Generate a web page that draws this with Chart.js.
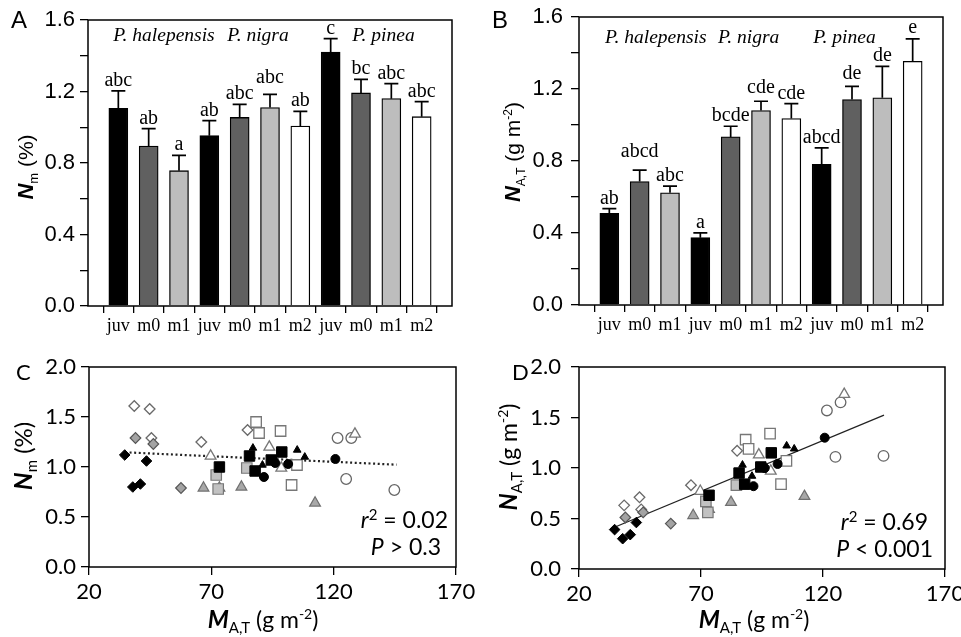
<!DOCTYPE html>
<html>
<head>
<meta charset="utf-8">
<script src="https://cdn.jsdelivr.net/npm/chart.js@4.4.1/dist/chart.umd.min.js"></script>
<style>
  body { margin: 0; background: #fff; width: 961px; height: 637px; position: relative; overflow: hidden; }
  canvas { position: absolute; }
</style>
</head>
<body>
<canvas id="panelA" width="480" height="345" style="left:0;top:0"></canvas>
<canvas id="panelB" width="481" height="345" style="left:480px;top:0"></canvas>
<canvas id="panelC" width="480" height="292" style="left:0;top:345px"></canvas>
<canvas id="panelD" width="481" height="292" style="left:480px;top:345px"></canvas>
<script>
// bar categories (3 species x leaf age classes)
const cats = ['juv', 'm0', 'm1', 'juv', 'm0', 'm1', 'm2', 'juv', 'm0', 'm1', 'm2'];
const species = ['P. halepensis', 'P. nigra', 'P. pinea'];

// A: leaf N per mass (%)
const nmMean = [1.106, 0.895, 0.757, 0.953, 1.055, 1.110, 1.007, 1.421, 1.192, 1.160, 1.059];
const nmErr = [0.097, 0.097, 0.086, 0.084, 0.073, 0.074, 0.082, 0.075, 0.076, 0.084, 0.084];
const nmLetters = ['abc', 'ab', 'a', 'ab', 'abc', 'abc', 'ab', 'c', 'bc', 'abc', 'abc'];

// B: leaf N per area (g m-2)
const naMean = [0.509, 0.686, 0.623, 0.374, 0.934, 1.080, 1.036, 0.781, 1.141, 1.151, 1.354];
const naErr = [0.026, 0.063, 0.037, 0.027, 0.059, 0.052, 0.083, 0.092, 0.074, 0.175, 0.124];
const naLetters = ['ab', 'abcd', 'abc', 'a', 'bcde', 'cde', 'cde', 'abcd', 'de', 'de', 'e'];

// C/D scatter: M_A,T (x), N_m (C) and N_A,T (D), by marker group
const diaBlkX = [34.6, 43.5, 37.9, 41.0];
const diaBlkNm = [1.12, 1.06, 0.80, 0.83];
const diaBlkNa = [0.39, 0.46, 0.30, 0.34];
const diaGryX = [39.0, 46.3, 57.6];
const diaGryNm = [1.29, 1.23, 0.79];
const diaGryNa = [0.51, 0.56, 0.45];
const diaOpnX = [38.5, 44.8, 45.5, 65.9, 84.8];
const diaOpnNm = [1.61, 1.58, 1.29, 1.25, 1.37];
const diaOpnNa = [0.63, 0.71, 0.59, 0.83, 1.17];
const sqBlkX = [73.3, 85.6, 87.9, 94.5, 98.8];
const sqBlkNm = [1.00, 1.11, 0.96, 1.07, 1.15];
const sqBlkNa = [0.73, 0.95, 0.84, 1.01, 1.15];
const sqGryX = [72.0, 72.8, 84.5];
const sqGryNm = [0.92, 0.78, 0.99];
const sqGryNa = [0.67, 0.56, 0.83];
const sqOpnX = [88.3, 89.5, 98.3, 105.0, 102.8];
const sqOpnNm = [1.45, 1.34, 1.36, 1.02, 0.82];
const sqOpnNa = [1.28, 1.19, 1.34, 1.07, 0.84];
const triBlkX = [87.0, 90.9, 105.1, 108.2];
const triBlkNm = [1.19, 1.02, 1.17, 1.10];
const triBlkNa = [1.03, 0.92, 1.22, 1.19];
const triGryX = [66.8, 73.3, 82.3, 112.4];
const triGryNm = [0.79, 0.79, 0.80, 0.64];
const triGryNa = [0.53, 0.59, 0.66, 0.72];
const triOpnX = [69.7, 93.7, 98.6, 128.7];
const triOpnNm = [1.11, 1.20, 0.99, 1.33];
const triOpnNa = [0.77, 1.13, 0.97, 1.73];
const cirBlkX = [91.5, 96.1, 101.4, 120.7];
const cirBlkNm = [0.90, 1.04, 1.03, 1.08];
const cirBlkNa = [0.82, 1.00, 1.04, 1.30];
const cirOpnX = [121.6, 127.2, 125.1, 144.8];
const cirOpnNm = [1.29, 1.29, 0.88, 0.77];
const cirOpnNa = [1.57, 1.65, 1.11, 1.12];

// fitted lines (end points)
const fitNm = [[34.7, 1.147], [145.7, 1.023]];
const fitNa = [[35.3, 0.421], [145.0, 1.523]];

const stageFill = { juv: '#000000', m0: '#606060', m1: '#bdbdbd', m2: '#ffffff' };
const SANS = 'Liberation Sans';
const SERIF = 'Liberation Serif';
const CAL = 'Lato';

// draw a run of text pieces (sub/superscripts), optionally rotated
function rich(ctx, x, y, segs, align, rot) {
  ctx.save();
  ctx.translate(x, y);
  if (rot) ctx.rotate(rot);
  let w = 0;
  segs.forEach(s => { ctx.font = s.f; s.w = ctx.measureText(s.t).width; w += s.w; });
  let cx = align === 'center' ? -w / 2 : align === 'right' ? -w : 0;
  ctx.textAlign = 'left';
  ctx.textBaseline = 'alphabetic';
  ctx.fillStyle = '#000';
  segs.forEach(s => { ctx.font = s.f; ctx.fillText(s.t, cx, s.dy || 0); cx += s.w; });
  ctx.restore();
}

function frame(chart) {
  const a = chart.chartArea, ctx = chart.ctx;
  ctx.save();
  ctx.strokeStyle = '#000';
  ctx.lineWidth = 1.5;
  ctx.strokeRect(a.left, a.top, a.right - a.left, a.bottom - a.top);
  ctx.restore();
}

function fixedAxes(box, area) {
  return {
    y: s => { s.width = area.l; s.paddingTop = 0; s.paddingBottom = 0; },
    x: s => { s.height = box.h - area.b; s.paddingLeft = 0; s.paddingRight = 0; }
  };
}

function barPanel(id, box, area, mean, err, letters, lift, cfg) {
  const fit = fixedAxes(box, area);
  const tickGrid = { display: true, drawOnChartArea: false, drawTicks: true, tickLength: 8, color: '#000', lineWidth: 1.3 };
  new Chart(document.getElementById(id), {
    type: 'bar',
    data: {
      datasets: [{
        data: mean.map((v, i) => ({ x: i, y: v })),
        backgroundColor: cats.map(c => stageFill[c]),
        borderColor: '#000',
        borderWidth: 1.3,
        barThickness: 19
      }]
    },
    options: {
      responsive: false,
      animation: false,
      layout: { padding: { left: 0, top: area.t, right: box.w - area.r, bottom: 0 } },
      plugins: { legend: { display: false }, tooltip: { enabled: false } },
      scales: {
        x: {
          type: 'linear', min: -1, max: 11, offset: false,
          afterBuildTicks: s => { s.ticks = cats.map((c, i) => ({ value: i })); },
          afterFit: fit.x,
          ticks: { autoSkip: false, maxRotation: 0, padding: 2, color: '#000',
                   font: { family: SERIF, size: 18 }, callback: v => cats[v] },
          grid: Object.assign({}, tickGrid, { tickLength: 7 }),
          border: { display: false }
        },
        y: {
          min: 0, max: 1.6,
          afterFit: fit.y,
          ticks: { stepSize: 0.2, padding: cfg.yPad, color: '#000', font: { family: SANS, size: 22 },
                   callback: v => Math.abs(v / 0.4 - Math.round(v / 0.4)) < 1e-6 ? v.toFixed(1) : '' },
          grid: tickGrid,
          border: { display: false }
        }
      }
    },
    plugins: [{
      id: 'errs',
      afterDatasetsDraw(chart) {
        const ctx = chart.ctx, ys = chart.scales.y;
        const bars = chart.getDatasetMeta(0).data;
        ctx.save();
        ctx.strokeStyle = '#000';
        ctx.lineWidth = 1.7;
        bars.forEach((b, i) => {
          const top = ys.getPixelForValue(mean[i] + err[i]);
          ctx.beginPath();
          ctx.moveTo(b.x, b.y);
          ctx.lineTo(b.x, top);
          ctx.moveTo(b.x - 7, top);
          ctx.lineTo(b.x + 7, top);
          ctx.stroke();
          ctx.font = '20px ' + SERIF;
          ctx.fillStyle = '#000';
          ctx.textAlign = 'center';
          ctx.textBaseline = 'alphabetic';
          ctx.fillText(letters[i], b.x, top - 5 - (lift[i] || 0));
        });
        ctx.restore();
      },
      afterDraw(chart) {
        frame(chart);
        const ctx = chart.ctx, xs = chart.scales.x, ys = chart.scales.y;
        species.forEach((sp, k) => {
          rich(ctx, xs.getPixelForValue(cfg.spX[k]), ys.getPixelForValue(cfg.spY),
               [{ t: sp, f: 'italic 19.5px ' + SERIF }], 'left');
        });
        rich(ctx, cfg.letter[1], cfg.letter[2], [{ t: cfg.letter[0], f: '24px ' + SANS }], 'left');
        rich(ctx, cfg.ytitle[0], cfg.ytitle[1], cfg.ytitle[2], 'center', -Math.PI / 2);
      }
    }]
  });
}

function scatterSet(x, y, shape, r, fill, line, bw) {
  return { data: x.map((v, i) => ({ x: v, y: y[i] })), pointStyle: shape, pointRadius: r,
           backgroundColor: fill, borderColor: line, borderWidth: bw, order: 1 };
}

function scatterPanel(id, box, area, ys, fitLine, dash, cfg) {
  const fit = fixedAxes(box, area);
  const tickGrid = { display: true, drawOnChartArea: false, drawTicks: true, tickLength: 8, color: '#000', lineWidth: 1.3 };
  const sets = [
    scatterSet(diaBlkX, ys.diaBlk, 'rectRot', 5.3, '#000', '#000', 1),
    scatterSet(sqBlkX, ys.sqBlk, 'rect', 7.4, '#000', '#000', 1),
    scatterSet(triBlkX, ys.triBlk, 'triangle', 4.4, '#000', '#000', 1),
    scatterSet(cirBlkX, ys.cirBlk, 'circle', 4.5, '#000', '#000', 1),
    scatterSet(diaGryX, ys.diaGry, 'rectRot', 5.3, '#a3a3a3', '#555', 1.2),
    scatterSet(sqGryX, ys.sqGry, 'rect', 7.4, '#c2c2c2', '#777', 1.2),
    scatterSet(triGryX, ys.triGry, 'triangle', 6.2, '#a8a8a8', '#707070', 1.2),
    scatterSet(diaOpnX, ys.diaOpn, 'rectRot', 5.3, '#fff', '#6a6a6a', 1.3),
    scatterSet(sqOpnX, ys.sqOpn, 'rect', 7.4, '#fff', '#777', 1.3),
    scatterSet(triOpnX, ys.triOpn, 'triangle', 6.2, '#fff', '#777', 1.3),
    scatterSet(cirOpnX, ys.cirOpn, 'circle', 5.3, '#fff', '#666', 1.3),
    { data: fitLine.map(p => ({ x: p[0], y: p[1] })), showLine: true, pointRadius: 0,
      borderColor: '#222', borderWidth: dash ? 2.2 : 1.3, borderDash: dash || [], order: 2 }
  ];
  new Chart(document.getElementById(id), {
    type: 'scatter',
    data: { datasets: sets },
    options: {
      responsive: false,
      animation: false,
      layout: { padding: { left: 0, top: area.t, right: box.w - area.r, bottom: 0 } },
      plugins: { legend: { display: false }, tooltip: { enabled: false } },
      scales: {
        x: {
          type: 'linear', min: 20, max: 170,
          afterFit: fit.x,
          ticks: { stepSize: 50, padding: 4, color: '#000', font: { family: CAL, size: 22 } },
          grid: tickGrid,
          border: { display: false }
        },
        y: {
          min: 0, max: 2,
          afterFit: fit.y,
          ticks: { stepSize: 0.5, padding: cfg.yPad, color: '#000', font: { family: CAL, size: 22 },
                   callback: v => v.toFixed(1) },
          grid: tickGrid,
          border: { display: false }
        }
      }
    },
    plugins: [{
      id: 'texts',
      afterDraw(chart) {
        frame(chart);
        const ctx = chart.ctx;
        rich(ctx, cfg.letter[1], cfg.letter[2], [{ t: cfg.letter[0], f: '22px ' + CAL }], 'left');
        rich(ctx, cfg.ytitle[0], cfg.ytitle[1], cfg.ytitle[2], 'center', -Math.PI / 2);
        rich(ctx, cfg.xtitle[0], cfg.xtitle[1], cfg.xtitle[2], 'center');
        cfg.stats.forEach(s => rich(ctx, s[0], s[1], s[2], 'right'));
      }
    }]
  });
}

const nSub = (sub, big, small) => [
  { t: 'N', f: 'italic bold ' + big + 'px ' },
  { t: sub, f: small + 'px ', dy: 5 }
];
function withFamily(segs, fam) { return segs.map(s => Object.assign({}, s, { f: s.f + fam })); }
const unitsArea = (big, small) => [
  { t: ' (g m', f: big + 'px ' },
  { t: '-2', f: small + 'px ', dy: -big * 0.4 },
  { t: ')', f: big + 'px ' }
];

barPanel('panelA', { w: 480, h: 345 }, { l: 88, t: 20, r: 452, b: 306 },
  nmMean, nmErr, nmLetters, [0, 0, 0, 0, 0, 6, 0, 0, 0, 0, 0], {
    spX: [-0.17, 3.59, 7.71], spY: 1.48, yPad: 5,
    letter: ['A', 11, 28],
    ytitle: [33, 167, withFamily(nSub('m', 22, 13).concat([{ t: ' (%)', f: '21px ' }]), SANS)]
  });

barPanel('panelB', { w: 481, h: 345 }, { l: 99, t: 17, r: 463, b: 305 },
  naMean, naErr, naLetters, [0, 8, 0, 0, 0, 3, 0, 0, 2, 0, 1], {
    spX: [-0.14, 3.58, 6.72], spY: 1.455, yPad: 8,
    letter: ['B', 12, 28],
    ytitle: [40, 152, withFamily(nSub('A,T', 22, 12).concat(unitsArea(21, 12)), SANS)]
  });

scatterPanel('panelC', { w: 480, h: 292 }, { l: 89, t: 22, r: 456, b: 222 },
  { diaBlk: diaBlkNm, diaGry: diaGryNm, diaOpn: diaOpnNm, sqBlk: sqBlkNm, sqGry: sqGryNm, sqOpn: sqOpnNm,
    triBlk: triBlkNm, triGry: triGryNm, triOpn: triOpnNm, cirBlk: cirBlkNm, cirOpn: cirOpnNm },
  fitNm, [2, 2.6], {
    yPad: 5,
    letter: ['C', 16, 35],
    ytitle: [32, 111, withFamily(nSub('m', 25, 15).concat([{ t: ' (%)', f: '24px ' }]), CAL)],
    xtitle: [263, 283, withFamily([{ t: 'M', f: 'italic bold 24px ' }, { t: 'A,T', f: '15px ', dy: 5 }].concat(unitsArea(23, 14)), CAL)],
    stats: [
      [448, 183, withFamily([{ t: 'r', f: 'italic 23px ' }, { t: '2', f: '15px ', dy: -8 }, { t: ' = 0.02', f: '23px ' }], CAL)],
      [441, 210, withFamily([{ t: 'P', f: 'italic 23px ' }, { t: ' > 0.3', f: '23px ' }], CAL)]
    ]
  });

scatterPanel('panelD', { w: 481, h: 292 }, { l: 99, t: 22, r: 465, b: 224 },
  { diaBlk: diaBlkNa, diaGry: diaGryNa, diaOpn: diaOpnNa, sqBlk: sqBlkNa, sqGry: sqGryNa, sqOpn: sqOpnNa,
    triBlk: triBlkNa, triGry: triGryNa, triOpn: triOpnNa, cirBlk: cirBlkNa, cirOpn: cirOpnNa },
  fitNa, null, {
    yPad: 10,
    letter: ['D', 32, 35],
    ytitle: [37, 112, withFamily(nSub('A,T', 24, 15).concat(unitsArea(23, 14)), CAL)],
    xtitle: [274, 283, withFamily([{ t: 'M', f: 'italic bold 24px ' }, { t: 'A,T', f: '15px ', dy: 5 }].concat(unitsArea(23, 14)), CAL)],
    stats: [
      [448, 185, withFamily([{ t: 'r', f: 'italic 23px ' }, { t: '2', f: '15px ', dy: -8 }, { t: ' = 0.69', f: '23px ' }], CAL)],
      [453, 212, withFamily([{ t: 'P', f: 'italic 23px ' }, { t: ' < 0.001', f: '23px ' }], CAL)]
    ]
  });
</script>
</body>
</html>
